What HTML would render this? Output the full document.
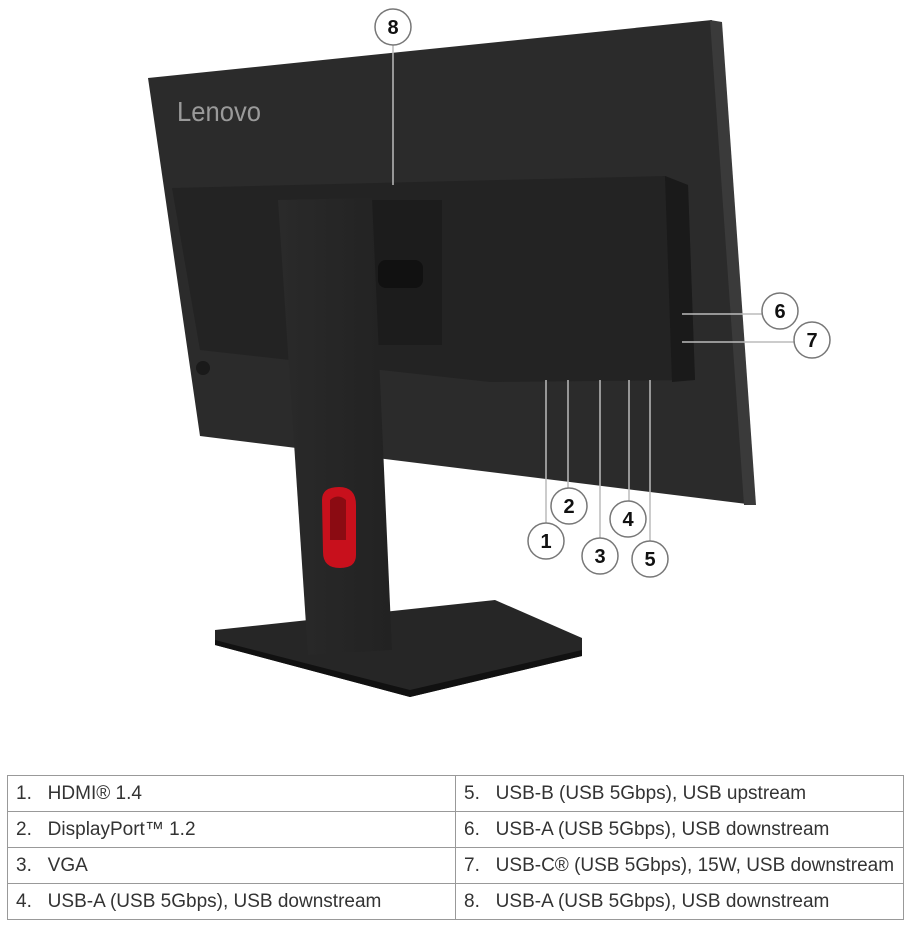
<!DOCTYPE html>
<html><head><meta charset="utf-8"><style>
body{margin:0;background:#fff;width:909px;height:927px;overflow:hidden;font-family:"Liberation Sans",sans-serif}
svg{position:absolute;left:0;top:0}
table{position:absolute;left:7px;top:775px;width:897px;border-collapse:collapse;font-size:19px;color:#333}
td{border:1px solid #999;height:36px;padding:0 0 0 8px;box-sizing:border-box;white-space:nowrap}
td:first-child{width:448px}
</style></head><body>
<svg width="909" height="760" viewBox="0 0 909 760">
<defs><linearGradient id="g" x1="0" x2="1"><stop offset="0" stop-color="#2a2a2a"/><stop offset="1" stop-color="#222"/></linearGradient></defs>
<polygon points="148,78 712,20 755,505 200,436" fill="#2b2b2b"/>
<polygon points="710,20 722,22 756,505 744,505" fill="#3a3a3a"/>
<text x="177" y="121" font-size="28" fill="#9a9a9a" font-family="Liberation Sans,sans-serif" textLength="84" lengthAdjust="spacingAndGlyphs">Lenovo</text>
<polygon points="172,188 665,176 688,185 695,380 490,382 200,350" fill="#232323"/>
<polygon points="665,176 688,185 695,380 672,382" fill="#1a1a1a"/>
<rect x="372" y="200" width="70" height="145" fill="#1c1c1c"/>
<rect x="378" y="260" width="45" height="28" rx="8" fill="#111"/>
<circle cx="203" cy="368" r="7" fill="#1a1a1a"/>
<polygon points="215,630 495,600 582,638 582,656 410,697 215,645" fill="#262626"/>
<polygon points="215,640 410,690 582,650 582,656 410,697 215,645" fill="#111"/>
<polygon points="278,200 372,198 392,650 308,655" fill="url(#g)"/>
<path d="M322,500 Q322,487 339,487 Q356,487 356,505 L356,555 Q356,568 340,568 Q323,568 323,552 Z" fill="#c8101c"/>
<path d="M330,500 Q338,493 346,500 L346,540 L330,540 Z" fill="#8b0b12"/>
<g stroke="#bbb" stroke-width="1.5" fill="none">
<line x1="393" y1="45" x2="393" y2="185"/>
<line x1="682" y1="314" x2="762" y2="314"/>
<line x1="682" y1="342" x2="794" y2="342"/>
<line x1="546" y1="380" x2="546" y2="523"/>
<line x1="568" y1="380" x2="568" y2="488"/>
<line x1="600" y1="380" x2="600" y2="538"/>
<line x1="629" y1="380" x2="629" y2="501"/>
<line x1="650" y1="380" x2="650" y2="541"/>
</g>
<g fill="#fff" stroke="#777" stroke-width="1.5">
<circle cx="393" cy="27" r="18"/><circle cx="780" cy="311" r="18"/><circle cx="812" cy="340" r="18"/>
<circle cx="546" cy="541" r="18"/><circle cx="569" cy="506" r="18"/><circle cx="600" cy="556" r="18"/>
<circle cx="628" cy="519" r="18"/><circle cx="650" cy="559" r="18"/>
</g>
<g font-size="20" font-weight="bold" fill="#111" text-anchor="middle" font-family="Liberation Sans,sans-serif">
<text x="393" y="34">8</text><text x="780" y="318">6</text><text x="812" y="347">7</text>
<text x="546" y="548">1</text><text x="569" y="513">2</text><text x="600" y="563">3</text>
<text x="628" y="526">4</text><text x="650" y="566">5</text>
</g>
</svg>
<table>
<tr><td>1.&nbsp;&nbsp; HDMI® 1.4</td><td>5.&nbsp;&nbsp; USB-B (USB 5Gbps), USB upstream</td></tr>
<tr><td>2.&nbsp;&nbsp; DisplayPort™ 1.2</td><td>6.&nbsp;&nbsp; USB-A (USB 5Gbps), USB downstream</td></tr>
<tr><td>3.&nbsp;&nbsp; VGA</td><td>7.&nbsp;&nbsp; USB-C® (USB 5Gbps), 15W, USB downstream</td></tr>
<tr><td>4.&nbsp;&nbsp; USB-A (USB 5Gbps), USB downstream</td><td>8.&nbsp;&nbsp; USB-A (USB 5Gbps), USB downstream</td></tr>
</table>
</body></html>
